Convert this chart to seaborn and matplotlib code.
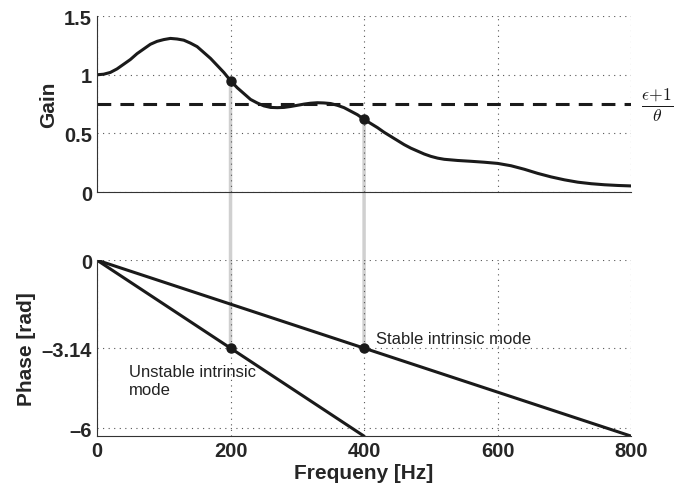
import numpy as np
import pandas as pd
import matplotlib
matplotlib.use("Agg")
import matplotlib.pyplot as plt
import seaborn as sns
from matplotlib.patches import ConnectionPatch

# gain curve
gain_freq = [0, 10, 20, 30, 40, 50, 60, 70, 80, 90, 100, 110, 120, 130, 140, 150,
             160, 170, 180, 190, 200, 210, 220, 230, 240, 250, 260, 270, 280, 290,
             300, 310, 320, 330, 340, 350, 360, 370, 380, 390, 400, 410, 420, 430,
             440, 450, 460, 470, 480, 490, 500, 510, 520, 540, 560, 580, 600, 620,
             640, 660, 680, 700, 720, 740, 760, 780, 800]
gain_vals = [1.0, 1.005, 1.02, 1.05, 1.09, 1.13, 1.18, 1.22, 1.26, 1.285, 1.30,
             1.31, 1.305, 1.295, 1.27, 1.24, 1.19, 1.14, 1.08, 1.02, 0.95, 0.89,
             0.84, 0.79, 0.76, 0.735, 0.722, 0.72, 0.722, 0.73, 0.74, 0.75, 0.758,
             0.762, 0.76, 0.755, 0.74, 0.72, 0.69, 0.66, 0.62, 0.585, 0.55, 0.51,
             0.475, 0.44, 0.405, 0.375, 0.35, 0.325, 0.305, 0.29, 0.28, 0.27, 0.263,
             0.255, 0.245, 0.225, 0.195, 0.16, 0.13, 0.105, 0.085, 0.072, 0.063,
             0.057, 0.053]
threshold = 0.75

# phase lines
stable_freq = [0, 800]
stable_phase = [0, -2 * np.pi]
unstable_freq = [0, 400]
unstable_phase = [0, -2 * np.pi]

# intersection markers
mark_freq = [200, 400]
mark_gain = [0.95, 0.62]
mark_phase = [-np.pi, -np.pi]

sns.set_style("white")
plt.rcParams['font.family'] = ['Liberation Sans', 'DejaVu Sans']
plt.rcParams['mathtext.fontset'] = 'cm'

fig = plt.figure(figsize=(6.78, 4.89), dpi=100)
ax1 = fig.add_axes([0.143, 0.605, 0.788, 0.36])
ax2 = fig.add_axes([0.143, 0.106, 0.788, 0.36])

gain_df = pd.DataFrame({'freq': gain_freq, 'gain': gain_vals})
sns.lineplot(data=gain_df, x='freq', y='gain', ax=ax1, color='#1a1a1a', lw=2.2)
ax1.axhline(threshold, color='#1a1a1a', lw=2.2, ls=(0, (4.5, 3)))
ax1.plot(mark_freq, mark_gain, 'o', color='#1a1a1a', ms=6.5, zorder=5, clip_on=False)

sns.lineplot(x=stable_freq, y=stable_phase, ax=ax2, color='#1a1a1a', lw=2.2)
sns.lineplot(x=unstable_freq, y=unstable_phase, ax=ax2, color='#1a1a1a', lw=2.2)
ax2.plot(mark_freq, mark_phase, 'o', color='#1a1a1a', ms=6.5, zorder=5)

# grey connectors drawn beneath the (transparent) axes
for f, g, p in zip(mark_freq, mark_gain, mark_phase):
    con = ConnectionPatch(xyA=(f, g), coordsA=ax1.transData, xyB=(f, p), coordsB=ax2.transData,
                          color='#d0d0d0', lw=2.5, zorder=-1)
    fig.add_artist(con)

ax1.set_xlim(0, 800)
ax1.set_ylim(0, 1.5)
ax1.set_yticks([0, 0.5, 1, 1.5])
ax1.set_yticklabels(['0', '0.5', '1', '1.5'])
ax1.set_xticks([0, 200, 400, 600, 800])
ax1.set_xticklabels([])
ax1.set_xlabel('')
ax1.set_ylabel('Gain', fontsize=15, fontweight='bold')

ax2.set_xlim(0, 800)
ax2.set_ylim(-2 * np.pi, 0)
ax2.set_yticks([-6, -3.14, 0])
ax2.set_yticklabels(['\u20136', '\u20133.14', '0'])
ax2.set_xticks([0, 200, 400, 600, 800])
ax2.set_xlabel('Frequeny [Hz]', fontsize=15, fontweight='bold', labelpad=2)
ax2.set_ylabel('Phase [rad]', fontsize=15, fontweight='bold')

for ax in (ax1, ax2):
    ax.patch.set_alpha(0)
    ax.grid(True, ls=(0, (1, 4)), color='#555555', lw=0.8)
    ax.tick_params(direction='in', length=3, labelsize=14.5, width=0.8)
    for lab in ax.get_xticklabels() + ax.get_yticklabels():
        lab.set_fontweight('bold')
    ax.spines['top'].set_visible(False)
    ax.spines['right'].set_visible(False)
    ax.spines['left'].set_color('#333333')
    ax.spines['bottom'].set_color('#333333')
    ax.set_axisbelow(True)

ax1.text(1.048, threshold, r'$\frac{\epsilon\!+\!1}{\theta}$', transform=ax1.get_yaxis_transform(),
         ha='center', va='center', fontsize=18, color='#1a1a1a')
ax2.text(48, -3.7, 'Unstable intrinsic\nmode', fontsize=12, va='top', ha='left', color='#222222',
         linespacing=1.3)
ax2.text(418, -2.8, 'Stable intrinsic mode', fontsize=12, va='center', ha='left', color='#222222')

fig.savefig('out.png', dpi=100)
